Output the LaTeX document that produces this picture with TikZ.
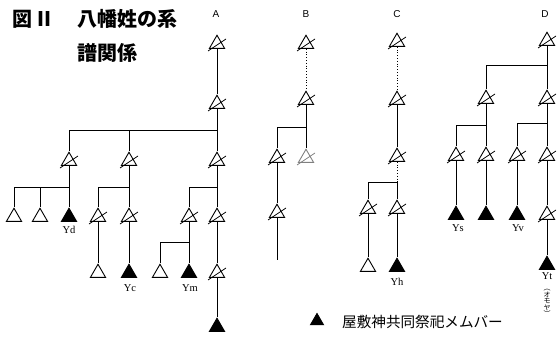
\documentclass[tikz,border=0pt]{standalone}
\usepackage{fontspec}
\setmainfont{Liberation Serif}
\newfontfamily\cjk{Noto Sans CJK JP}
\newfontfamily\lsans{Liberation Sans}
\usetikzlibrary{shapes.geometric}
\newcommand\tconn[3]{\draw[link] (#1.south) |- (#2.corner 1 |- #3) -- (#2.corner 1);}
\newcommand\vconn[2]{\draw[link] (#1.south) -- (#2.corner 1);}
\begin{document}
\begin{tikzpicture}[x=1pt,y=-1pt,
  tri/.style={regular polygon, regular polygon sides=3, draw, inner sep=0pt, minimum size=17.5pt, line width=0.9pt},
  ftri/.style={tri, fill=black},
  link/.style={line width=0.8pt},
  dotl/.style={line width=0.8pt, dotted},
  slashl/.style={line width=0.8pt},
  lab/.style={font=\fontsize{10.5}{10.5}\selectfont, inner sep=0pt},
  col/.style={font=\lsans\fontsize{10}{10}\selectfont, inner sep=0pt},
  ttl/.style={font=\cjk\bfseries\fontsize{20}{20}\selectfont, inner sep=0pt, anchor=west}]
\useasboundingbox (0,0) rectangle (558,348);
% title
\node[ttl] (t1) at (12,19) {図};
\node[ttl] (t2) at (34,19) {Ⅱ};
\node[ttl] (t3) at (77,19) {八幡姓の系};
\node[ttl] (t4) at (77,53) {譜関係};
% column letters
\node[col] (lA) at (216,14) {A};
\node[col] (lB) at (306,14) {B};
\node[col] (lC) at (397,14) {C};
\node[col] (lD) at (545,14) {D};
% bars
\coordinate (barA) at (0,130);
\coordinate (barA2) at (0,187);
\coordinate (barA3) at (0,242);
\coordinate (barB) at (0,127);
\coordinate (barC) at (0,182);
\coordinate (barD) at (0,65);
\coordinate (barDa) at (0,125);
\coordinate (barDb) at (0,123);
% ---- A ----
\node[tri] (A1) at (217,44) {};
\node[tri] (A2) at (217,104) {};
\node[tri] (A3a) at (69,161) {};
\node[tri] (A3b) at (129,161) {};
\node[tri] (A3c) at (217,161) {};
\node[tri] (A4a) at (14,217) {};
\node[tri] (A4b) at (40,217) {};
\node[ftri] (A4c) at (69,217) {};
\node[tri] (A4d) at (98,217) {};
\node[tri] (A4e) at (129,217) {};
\node[tri] (A4f) at (189,217) {};
\node[tri] (A4g) at (217,217) {};
\node[tri] (A5a) at (98,273) {};
\node[ftri] (A5b) at (129,273) {};
\node[tri] (A5c) at (160,273) {};
\node[ftri] (A5d) at (189,273) {};
\node[tri] (A5e) at (217,273) {};
\node[ftri] (A6) at (217,327) {};
\vconn{A1}{A2}
\tconn{A2}{A3a}{barA}
\tconn{A2}{A3b}{barA}
\vconn{A2}{A3c}
\tconn{A3a}{A4a}{barA2}
\tconn{A3a}{A4b}{barA2}
\vconn{A3a}{A4c}
\tconn{A3b}{A4d}{barA2}
\vconn{A3b}{A4e}
\tconn{A3c}{A4f}{barA2}
\vconn{A3c}{A4g}
\vconn{A4d}{A5a}
\vconn{A4e}{A5b}
\tconn{A4f}{A5c}{barA3}
\vconn{A4f}{A5d}
\vconn{A4g}{A5e}
\vconn{A5e}{A6}
\node[lab] (Yd) at (69,230) {Yd};
\node[lab] (Yc) at (130,288) {Yc};
\node[lab] (Ym) at (190,288) {Ym};
% ---- B ----
\node[tri] (B1) at (306,44) {};
\node[tri] (B2) at (306,100) {};
\node[tri] (B3a) at (277,158) {};
\node[tri, draw=gray] (B3b) at (306,158) {};
\node[tri] (B4) at (277,213) {};
\coordinate (Bend) at (277,260);
\draw[dotl] (B1.south) -- (B2.corner 1);
\tconn{B2}{B3a}{barB}
\vconn{B2}{B3b}
\vconn{B3a}{B4}
\draw[link] (B4.south) -- (Bend);
% ---- C ----
\node[tri] (C1) at (397,42) {};
\node[tri] (C2) at (397,100) {};
\node[tri] (C3) at (397,157) {};
\node[tri] (C4a) at (368,209) {};
\node[tri] (C4b) at (397,209) {};
\node[tri] (C5a) at (368,267) {};
\node[ftri] (C5b) at (397,267) {};
\draw[dotl] (C1.south) -- (C2.corner 1);
\vconn{C2}{C3}
\draw[dotl] (C3.south) -- (C3.south |- barC);
\draw[link] (C3.south |- barC) -| (C4a.corner 1);
\draw[link] (C3.south |- barC) -- (C4b.corner 1);
\vconn{C4a}{C5a}
\vconn{C4b}{C5b}
\node[lab] (Yh) at (397,282) {Yh};
% ---- D ----
\node[tri] (D1) at (547,41) {};
\node[tri] (D2a) at (486,99) {};
\node[tri] (D2b) at (547,99) {};
\node[tri] (D3a) at (456,156) {};
\node[tri] (D3b) at (486,156) {};
\node[tri] (D3c) at (517,156) {};
\node[tri] (D3d) at (547,156) {};
\node[ftri] (D4a) at (456,215) {};
\node[ftri] (D4b) at (486,215) {};
\node[ftri] (D4c) at (517,215) {};
\node[tri] (D4d) at (547,215) {};
\node[ftri] (D5) at (547,265) {};
\tconn{D1}{D2a}{barD}
\vconn{D1}{D2b}
\tconn{D2a}{D3a}{barDa}
\vconn{D2a}{D3b}
\tconn{D2b}{D3c}{barDb}
\vconn{D2b}{D3d}
\vconn{D3a}{D4a}
\vconn{D3b}{D4b}
\vconn{D3c}{D4c}
\vconn{D3d}{D4d}
\vconn{D4d}{D5}
\node[lab] (Ys) at (458,228) {Ys};
\node[lab] (Yv) at (518,228) {Yv};
\node[lab] (Yt) at (547,276) {Yt};
\node[font=\cjk\fontsize{7}{6.6}\selectfont, inner sep=0pt, align=center, anchor=north] (om) at (547,289) {︵\\オ\\モ\\ヤ\\︶};
% slashes
\foreach \n in {A1,A2,A3a,A3b,A3c,A4d,A4e,A4f,A4g,A5e,B1,B2,B3a,B4,C1,C2,C3,C4a,C4b,D1,D2a,D2b,D3a,D3b,D3c,D3d,D4d}
  \draw[slashl] ([shift={(-9pt,-7pt)}]\n.center) -- ([shift={(9pt,5pt)}]\n.center);
\draw[slashl, gray] ([shift={(-9pt,-7pt)}]B3b.center) -- ([shift={(9pt,5pt)}]B3b.center);
% legend
\node[ftri, minimum size=15pt] (lg) at (317,321) {};
\node[font=\cjk\fontsize{14.6}{14.6}\selectfont, inner sep=0pt, anchor=west] (lgt) at (342,322) {屋敷神共同祭祀メムバー};
\end{tikzpicture}
\end{document}
